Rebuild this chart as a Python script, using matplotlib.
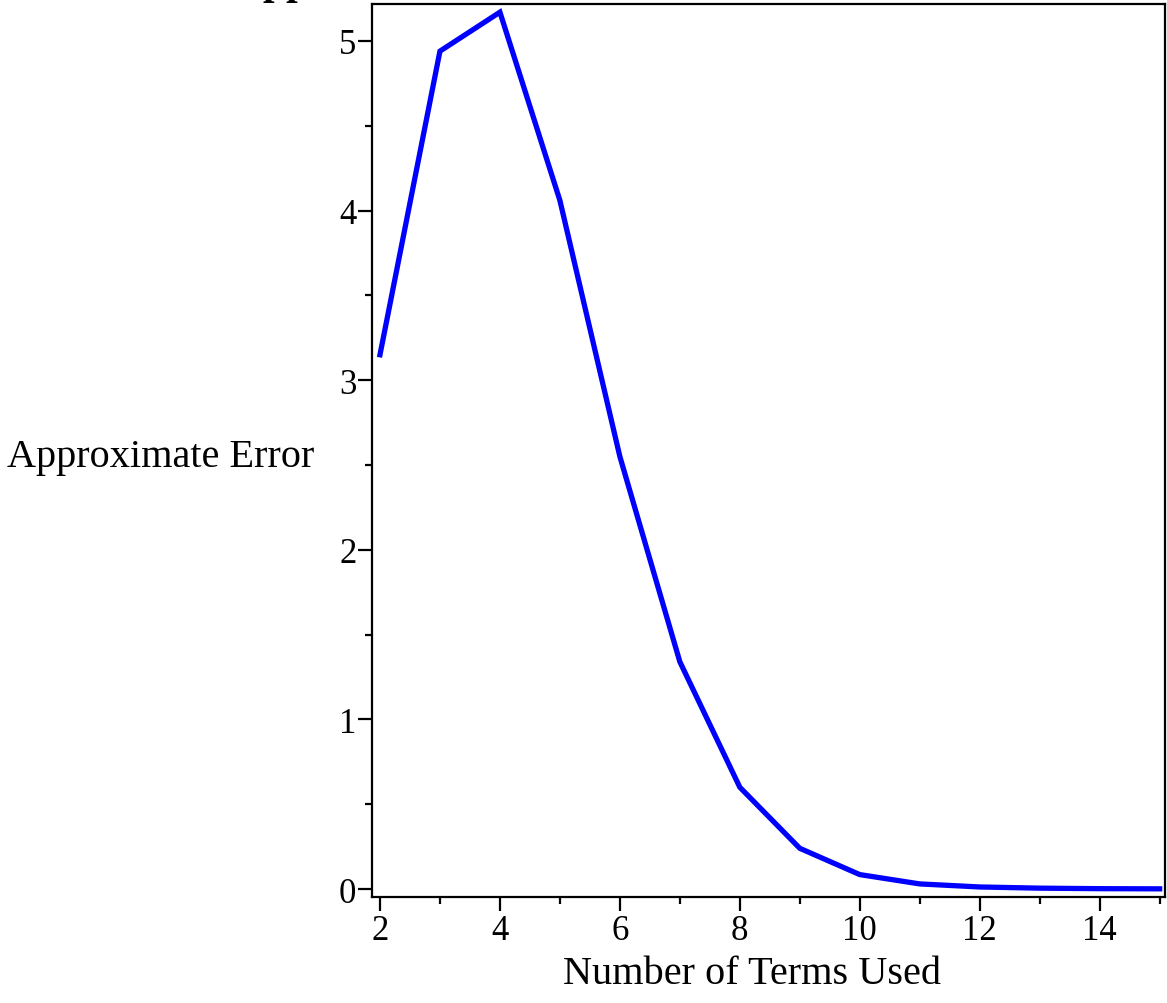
import matplotlib
matplotlib.use("Agg")
import matplotlib.pyplot as plt
from matplotlib.ticker import MultipleLocator

# number of terms vs approximate error
terms = [2, 3, 4, 5, 6, 7, 8, 9, 10, 11, 12, 13, 14, 15]
errors = [3.15, 4.94, 5.17, 4.06, 2.55, 1.34, 0.60, 0.24, 0.085, 0.03, 0.012, 0.005, 0.002, 0.001]

plt.rcParams['font.family'] = ['Liberation Serif', 'DejaVu Serif']

fig = plt.figure(figsize=(11.67, 10.04), dpi=100)
ax = fig.add_axes([0.3184, 0.1056, 0.9983 - 0.3184, 0.995 - 0.1056])

ax.plot(terms, errors, color='#0000ff', linewidth=3.8, solid_joinstyle='miter')

ax.set_xlim(1.86, 15.09)
ax.set_ylim(-0.047, 5.218)

ax.xaxis.set_major_locator(MultipleLocator(2))
ax.xaxis.set_minor_locator(MultipleLocator(1))
ax.yaxis.set_major_locator(MultipleLocator(1))
ax.yaxis.set_minor_locator(MultipleLocator(0.5))

ax.tick_params(axis='both', which='both', direction='out', width=1.6, colors='black', labelsize=25)
ax.tick_params(axis='x', which='major', length=10, pad=2)
ax.tick_params(axis='x', which='minor', length=5)
ax.tick_params(axis='y', which='major', length=10, pad=1)
ax.tick_params(axis='y', which='minor', length=5)

for s in ax.spines.values():
    s.set_linewidth(1.6)

# labels placed like the original (horizontal y label at the left)
fig.text(161 / 1167, 1 - 458 / 1004, "Approximate Error", fontsize=29, ha='center', va='center')
fig.text(752 / 1167, 1 - 975 / 1004, "Number of Terms Used", fontsize=29, ha='center', va='center')

# title is cut off at the top edge, only descenders show
fig.text(233 / 1167, 1 + 6 / 1004, "Approximate Error", fontsize=30, fontweight='bold',
         ha='left', va='baseline')

fig.savefig("out.png", dpi=100)
